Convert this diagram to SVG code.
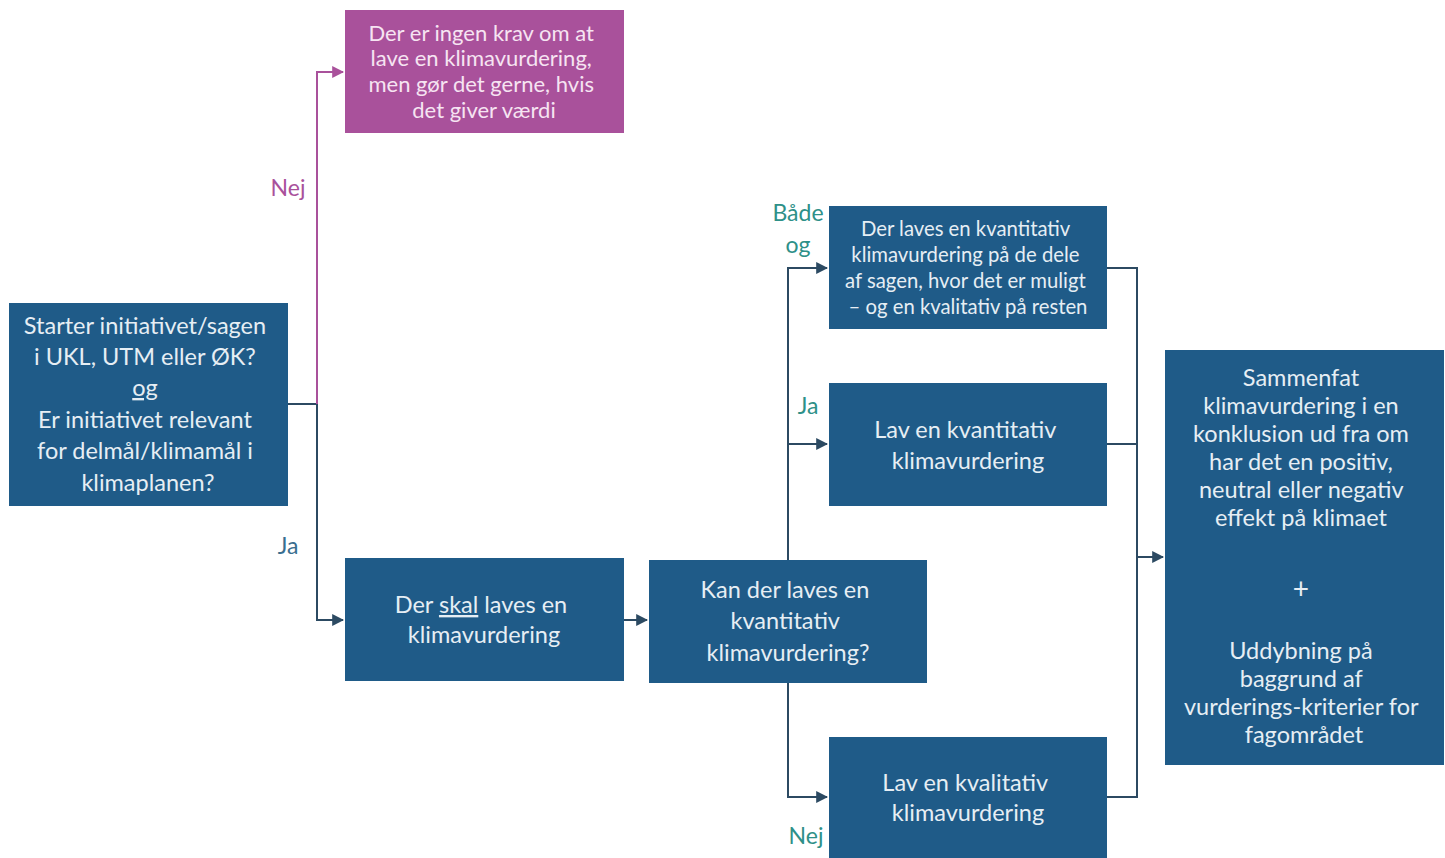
<svg xmlns="http://www.w3.org/2000/svg" width="1445" height="858" viewBox="0 0 1445 858">
<style>
.box{fill:#1f5b88}
.mag{fill:#a9519b}
.t{font-family:Lato,"Open Sans","Liberation Sans",sans-serif;fill:#e6eef4;text-anchor:middle}
.tm{font-family:Lato,"Open Sans","Liberation Sans",sans-serif;fill:#f6e4f2;text-anchor:middle}
.lbl{font-family:Lato,"Open Sans","Liberation Sans",sans-serif;font-size:23px;text-anchor:middle}
.c{fill:none;stroke:#2c4a62;stroke-width:2}
.cm{fill:none;stroke:#a9519b;stroke-width:2}
</style>
<defs>
<marker id="ahm" viewBox="0 0 10 10" refX="9" refY="5" markerWidth="12" markerHeight="12" orient="auto" markerUnits="userSpaceOnUse">
<path d="M0,0 L10,5 L0,10 z" fill="#a9519b"/>
</marker>
<marker id="ahd" viewBox="0 0 10 10" refX="9" refY="5" markerWidth="12" markerHeight="12" orient="auto" markerUnits="userSpaceOnUse">
<path d="M0,0 L10,5 L0,10 z" fill="#2c4a62"/>
</marker>
</defs>
<rect width="1445" height="858" fill="#ffffff"/>
<g id="connectors">
<path class="c" d="M288,404 H317 V620 H343" marker-end="url(#ahd)"/>
<path class="cm" d="M317,404 V72 H343" marker-end="url(#ahm)"/>
<path class="c" d="M624,620 H647" stroke="#6d8296" stroke-width="1.5" marker-end="url(#ahd)"/>
<path class="c" d="M788,560 V268 H827" marker-end="url(#ahd)"/>
<path class="c" d="M788,444 H827" marker-end="url(#ahd)"/>
<path class="c" d="M788,683 V797 H827" marker-end="url(#ahd)"/>
<path class="c" d="M1107,268 H1137 V797 H1107"/>
<path class="c" d="M1107,444 H1137"/>
<path class="c" d="M1137,557 H1163" marker-end="url(#ahd)"/>
<text class="lbl" x="288" y="196" fill="#a9519b">Nej</text>
<text class="lbl" x="288" y="554" fill="#3a6e8f">Ja</text>
<text class="lbl" x="798" y="221" fill="#2e9088">Både</text>
<text class="lbl" x="798" y="253" fill="#2e9088">og</text>
<text class="lbl" x="808" y="414" fill="#2e9088">Ja</text>
<text class="lbl" x="806" y="844" fill="#2e9088">Nej</text>
</g>
<g id="start">
<rect class="box" x="9" y="303" width="279" height="203"/>
<text class="t" font-size="23.5">
<tspan x="148" y="334">Starter initiativet/sagen</tspan>
<tspan x="148" y="365">i UKL, UTM eller ØK?</tspan>
<tspan x="148" y="396" text-decoration="underline">og</tspan>
<tspan x="148" y="428">Er initiativet relevant</tspan>
<tspan x="148" y="459">for delmål/klimamål i</tspan>
<tspan x="148" y="491">klimaplanen?</tspan>
</text>
</g>
<g id="nokrav">
<rect class="mag" x="345" y="10" width="279" height="123"/>
<text class="tm" font-size="22">
<tspan x="484" y="41">Der er ingen krav om at</tspan>
<tspan x="484" y="66">lave en klimavurdering,</tspan>
<tspan x="484" y="92">men gør det gerne, hvis</tspan>
<tspan x="484" y="118">det giver værdi</tspan>
</text>
</g>
<g id="skal">
<rect class="box" x="345" y="558" width="279" height="123"/>
<text class="t" font-size="23.5">
<tspan x="484" y="613">Der <tspan text-decoration="underline">skal</tspan> laves en</tspan>
<tspan x="484" y="643">klimavurdering</tspan>
</text>
</g>
<g id="kan">
<rect class="box" x="649" y="560" width="278" height="123"/>
<text class="t" font-size="23.5">
<tspan x="788" y="598">Kan der laves en</tspan>
<tspan x="788" y="629">kvantitativ</tspan>
<tspan x="788" y="661">klimavurdering?</tspan>
</text>
</g>
<g id="begge">
<rect class="box" x="829" y="206" width="278" height="123"/>
<text class="t" font-size="20.3">
<tspan x="968" y="236">Der laves en kvantitativ</tspan>
<tspan x="968" y="262">klimavurdering på de dele</tspan>
<tspan x="968" y="288">af sagen, hvor det er muligt</tspan>
<tspan x="968" y="314">– og en kvalitativ på resten</tspan>
</text>
</g>
<g id="kvantitativ">
<rect class="box" x="829" y="383" width="278" height="123"/>
<text class="t" font-size="23.5">
<tspan x="968" y="438">Lav en kvantitativ</tspan>
<tspan x="968" y="469">klimavurdering</tspan>
</text>
</g>
<g id="kvalitativ">
<rect class="box" x="829" y="737" width="278" height="123"/>
<text class="t" font-size="23.5">
<tspan x="968" y="791">Lav en kvalitativ</tspan>
<tspan x="968" y="821">klimavurdering</tspan>
</text>
</g>
<g id="sammenfat">
<rect class="box" x="1165" y="350" width="279" height="415"/>
<text class="t" font-size="23.5">
<tspan x="1304" y="386">Sammenfat</tspan>
<tspan x="1304" y="414">klimavurdering i en</tspan>
<tspan x="1304" y="442">konklusion ud fra om</tspan>
<tspan x="1304" y="470">har det en positiv,</tspan>
<tspan x="1304" y="498">neutral eller negativ</tspan>
<tspan x="1304" y="526">effekt på klimaet</tspan>
<tspan x="1304" y="599" font-size="28">+</tspan>
<tspan x="1304" y="659">Uddybning på</tspan>
<tspan x="1304" y="687">baggrund af</tspan>
<tspan x="1304" y="715">vurderings-kriterier for</tspan>
<tspan x="1304" y="743">fagområdet</tspan>
</text>
</g>
</svg>
